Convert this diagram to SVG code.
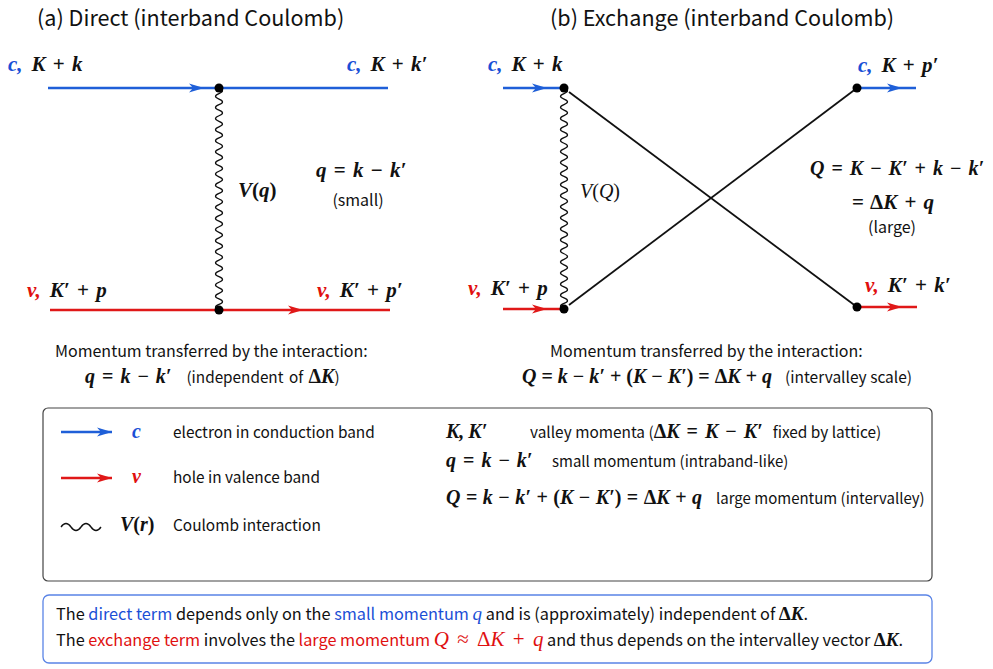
<svg xmlns="http://www.w3.org/2000/svg" width="993" height="669" viewBox="0 0 993 669">
<defs>
<style>
.s{font-family:"Noto Sans CJK JP","Noto Sans",sans-serif;fill:#111}
.m{font-family:"Liberation Serif","DejaVu Serif",serif;font-weight:bold;font-style:italic;fill:#111;word-spacing:2px}
.mr{font-family:"Liberation Serif","DejaVu Serif",serif;font-weight:normal;font-style:italic;fill:#111}
.mi{font-family:"Liberation Serif","DejaVu Serif",serif;font-style:italic}
.up{font-style:normal}
.cb{fill:#1a4fd6}
.cr{fill:#e01010}
.bl{stroke:#1f5fd8;stroke-width:2.6;fill:none}
.rl{stroke:#e01818;stroke-width:2.6;fill:none}
.wv{stroke:#111;stroke-width:1.3;fill:none}
.xl{stroke:#111;stroke-width:1.8;fill:none}
.dot{fill:#000}
</style>
<marker id="ab" viewBox="0 0 16 12" markerWidth="16" markerHeight="12" refX="15" refY="6" orient="auto" markerUnits="userSpaceOnUse"><path d="M0 1.5 L15 6 L0 10.5 L4 6 Z" fill="#1f5fd8"/></marker>
<marker id="ar" viewBox="0 0 16 12" markerWidth="16" markerHeight="12" refX="15" refY="6" orient="auto" markerUnits="userSpaceOnUse"><path d="M0 1.5 L15 6 L0 10.5 L4 6 Z" fill="#e01818"/></marker>
</defs>
<rect width="993" height="669" fill="#fff"/>

<g id="titles">
<text class="s" x="37" y="26" font-size="21.6">(a) Direct (interband Coulomb)</text>
<text class="s" x="550" y="26" font-size="21.6">(b) Exchange (interband Coulomb)</text>
</g>

<g id="connectors">
<path class="bl" d="M48 88 H204 H388" marker-mid="url(#ab)"/>
<path class="rl" d="M50 310 H303 H390" marker-mid="url(#ar)"/>
<path class="wv" d="M219 88 q7 2.775 0 5.55 t0 5.55 t0 5.55 t0 5.55 t0 5.55 t0 5.55 t0 5.55 t0 5.55 t0 5.55 t0 5.55 t0 5.55 t0 5.55 t0 5.55 t0 5.55 t0 5.55 t0 5.55 t0 5.55 t0 5.55 t0 5.55 t0 5.55 t0 5.55 t0 5.55 t0 5.55 t0 5.55 t0 5.55 t0 5.55 t0 5.55 t0 5.55 t0 5.55 t0 5.55 t0 5.55 t0 5.55 t0 5.55 t0 5.55 t0 5.55 t0 5.55 t0 5.55 t0 5.55 t0 5.55 t0 5.55"/>
<path class="bl" d="M503 88 H547 H564" marker-mid="url(#ab)"/>
<path class="bl" d="M857 88 H902 H916" marker-mid="url(#ab)"/>
<path class="rl" d="M503 309 H547 H564" marker-mid="url(#ar)"/>
<path class="rl" d="M857 307 H902 H917" marker-mid="url(#ar)"/>
<path class="xl" d="M569 92 L857 307"/>
<path class="xl" d="M569 305 L857 88"/>
<path class="wv" d="M564 88 q7 2.7625 0 5.525 t0 5.525 t0 5.525 t0 5.525 t0 5.525 t0 5.525 t0 5.525 t0 5.525 t0 5.525 t0 5.525 t0 5.525 t0 5.525 t0 5.525 t0 5.525 t0 5.525 t0 5.525 t0 5.525 t0 5.525 t0 5.525 t0 5.525 t0 5.525 t0 5.525 t0 5.525 t0 5.525 t0 5.525 t0 5.525 t0 5.525 t0 5.525 t0 5.525 t0 5.525 t0 5.525 t0 5.525 t0 5.525 t0 5.525 t0 5.525 t0 5.525 t0 5.525 t0 5.525 t0 5.525 t0 5.525"/>
</g>

<g id="vertices">
<circle id="va1" class="dot" cx="219" cy="88" r="4.5"/>
<circle id="va2" class="dot" cx="219" cy="310" r="4.5"/>
<circle id="vb1" class="dot" cx="564" cy="88" r="4.5"/>
<circle id="vb2" class="dot" cx="564" cy="309" r="4.5"/>
<circle id="vb3" class="dot" cx="857" cy="88" r="4.5"/>
<circle id="vb4" class="dot" cx="857" cy="307" r="4.5"/>
</g>

<g id="labels-a" font-size="21">
<text class="m" x="8" y="71"><tspan class="cb">c,</tspan><tspan dx="9">K</tspan><tspan class="up"> + </tspan>k</text>
<text class="m" x="347" y="71"><tspan class="cb">c,</tspan><tspan dx="9">K</tspan><tspan class="up"> + </tspan>k′</text>
<text class="m" x="238" y="197">V<tspan class="up">(</tspan>q<tspan class="up">)</tspan></text>
<text class="m" x="316" y="177">q<tspan class="up"> = </tspan>k<tspan class="up"> − </tspan>k′</text>
<text class="s" x="358" y="206" font-size="16" text-anchor="middle">(small)</text>
<text class="m" x="27" y="297"><tspan class="cr">v,</tspan><tspan dx="9">K′</tspan><tspan class="up"> + </tspan>p</text>
<text class="m" x="317" y="297"><tspan class="cr">v,</tspan><tspan dx="9">K′</tspan><tspan class="up"> + </tspan>p′</text>
<text class="s" x="55" y="357" font-size="16">Momentum transferred by the interaction:</text>
<text class="m" x="85" y="383" font-size="20">q<tspan class="up"> = </tspan>k<tspan class="up"> − </tspan>k′<tspan class="s" font-weight="normal" font-style="normal" font-size="15.3" dx="15">(independent of </tspan><tspan class="up">Δ</tspan>K<tspan class="s" font-weight="normal" font-style="normal" font-size="15.3">)</tspan></text>
</g>

<g id="labels-b" font-size="21">
<text class="m" x="488" y="71"><tspan class="cb">c,</tspan><tspan dx="9">K</tspan><tspan class="up"> + </tspan>k</text>
<text class="m" x="858" y="72"><tspan class="cb">c,</tspan><tspan dx="9">K</tspan><tspan class="up"> + </tspan>p′</text>
<text class="mr" x="580" y="198" font-size="20">V<tspan class="up">(</tspan>Q<tspan class="up">)</tspan></text>
<text class="m" x="897" y="175" font-size="20" text-anchor="middle">Q<tspan class="up"> = </tspan>K<tspan class="up"> − </tspan>K′<tspan class="up"> + </tspan>k<tspan class="up"> − </tspan>k′</text>
<text class="m" x="893" y="209" text-anchor="middle"><tspan class="up">= Δ</tspan>K<tspan class="up"> + </tspan>q</text>
<text class="s" x="892" y="233" font-size="16" text-anchor="middle">(large)</text>
<text class="m" x="468" y="295"><tspan class="cr">v,</tspan><tspan dx="9">K′</tspan><tspan class="up"> + </tspan>p</text>
<text class="m" x="865" y="292"><tspan class="cr">v,</tspan><tspan dx="9">K′</tspan><tspan class="up"> + </tspan>k′</text>
<text class="s" x="550" y="357" font-size="16">Momentum transferred by the interaction:</text>
<text class="m" x="522" y="383" font-size="20" style="word-spacing:0px">Q<tspan class="up"> = </tspan>k<tspan class="up"> − </tspan>k′<tspan class="up"> + (</tspan>K<tspan class="up"> − </tspan>K′<tspan class="up">) = Δ</tspan>K<tspan class="up"> + </tspan>q<tspan class="s" font-weight="normal" font-style="normal" font-size="15.5" dx="13">(intervalley scale)</tspan></text>
</g>

<g id="legend">
<rect x="43" y="408" width="889" height="173" rx="5" fill="none" stroke="#444" stroke-width="1.2"/>
<path class="bl" d="M61 432 H112" marker-end="url(#ab)"/>
<path class="rl" d="M61 478 H112" marker-end="url(#ar)"/>
<path class="wv" d="M61 527 q5 -7 10 0 t10 0 t10 0 t10 0"/>
<text class="m cb" x="132" y="438" font-size="20">c</text>
<text class="m cr" x="132" y="483" font-size="20">v</text>
<text class="m" x="120" y="531" font-size="20">V<tspan class="up">(</tspan>r<tspan class="up">)</tspan></text>
<text class="s" x="173" y="438" font-size="15.4">electron in conduction band</text>
<text class="s" x="173" y="483" font-size="15.4">hole in valence band</text>
<text class="s" x="173" y="531" font-size="15.4">Coulomb interaction</text>
<text class="m" x="446" y="438" font-size="20">K,<tspan dx="4">K′</tspan></text>
<text class="s" x="530" y="438" font-size="15.4">valley momenta (<tspan class="m" font-size="20"><tspan class="up">Δ</tspan>K<tspan class="up"> = </tspan>K<tspan class="up"> − </tspan>K′</tspan><tspan dx="10">fixed by lattice)</tspan></text>
<text class="m" x="446" y="467" font-size="20">q<tspan class="up"> = </tspan>k<tspan class="up"> − </tspan>k′</text>
<text class="s" x="552" y="467" font-size="15">small momentum (intraband-like)</text>
<text class="m" x="446" y="504" font-size="20" style="word-spacing:0.5px">Q<tspan class="up"> = </tspan>k<tspan class="up"> − </tspan>k′<tspan class="up"> + (</tspan>K<tspan class="up"> − </tspan>K′<tspan class="up">) = Δ</tspan>K<tspan class="up"> + </tspan>q</text>
<text class="s" x="716" y="504" font-size="15">large momentum (intervalley)</text>
</g>

<g id="summary">
<rect x="43" y="595" width="889" height="68" rx="6" fill="none" stroke="#5a84e6" stroke-width="1.3"/>
<text class="s" x="56" y="620" font-size="16.3">The <tspan class="cb">direct term</tspan> depends only on the <tspan class="cb">small momentum <tspan class="mi" font-size="19">q</tspan></tspan> and is (approximately) independent of <tspan class="m" font-size="19" style="word-spacing:0px"><tspan class="up">Δ</tspan>K</tspan>.</text>
<text class="s" x="56" y="646" font-size="16.3">The <tspan class="cr">exchange term</tspan> involves the <tspan class="cr">large momentum <tspan font-family="Liberation Serif, serif" font-size="21" style="word-spacing:3px"><tspan font-style="italic">Q</tspan> ≈ Δ<tspan font-style="italic">K</tspan> + <tspan font-style="italic">q</tspan></tspan></tspan> and thus depends on the intervalley vector <tspan class="m" font-size="19" style="word-spacing:0px"><tspan class="up">Δ</tspan>K</tspan>.</text>
</g>
</svg>
